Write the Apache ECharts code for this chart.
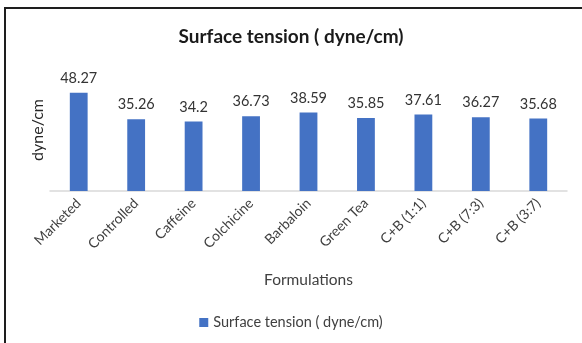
<!DOCTYPE html>
<html>
<head>
<meta charset="utf-8">
<script src="https://cdn.jsdelivr.net/npm/echarts@6/dist/echarts.min.js"></script>
<style>
  html, body { margin: 0; padding: 0; background: #fff; }
  #chart { width: 582px; height: 343px; }
</style>
</head>
<body>
<div id="chart"></div>
<script>
// Formulations and their measured surface tension
const categories = ['Marketed', 'Controlled', 'Caffeine', 'Colchicine', 'Barbaloin',
  'Green Tea', 'C+B (1:1)', 'C+B (7:3)', 'C+B (3:7)'];
const surfaceTension = [48.27, 35.26, 34.2, 36.73, 38.59, 35.85, 37.61, 36.27, 35.68];
const seriesName = 'Surface tension ( dyne/cm)';

const font = 'Lato, "Open Sans", sans-serif';
const chart = echarts.init(document.getElementById('chart'), null, { renderer: 'canvas' });

chart.setOption({
  animation: false,
  backgroundColor: '#fff',
  textStyle: { fontFamily: font },
  title: {
    text: 'Surface tension ( dyne/cm)',
    left: 'center',
    top: 22,
    textStyle: { fontFamily: font, fontSize: 19, fontWeight: 'bold', color: '#1a1a1a' }
  },
  graphic: [{
    type: 'rect',
    shape: { x: 5, y: 8, width: 700, height: 500 },
    style: { fill: 'none', stroke: '#1e1e1e', lineWidth: 2 },
    silent: true
  }],
  legend: {
    bottom: 8,
    left: 'center',
    itemWidth: 9,
    itemHeight: 9,
    itemGap: 4,
    icon: 'rect',
    textStyle: { fontFamily: font, fontSize: 14.5, color: '#404040' },
    data: [seriesName]
  },
  grid: { left: 50, right: 15, top: 69, bottom: 152 },
  xAxis: {
    type: 'category',
    data: categories,
    name: 'Formulations',
    nameLocation: 'middle',
    nameGap: 81,
    nameTextStyle: { fontFamily: font, fontSize: 15.5, color: '#404040' },
    axisLine: { lineStyle: { color: '#d9d9d9', width: 1.5 } },
    axisTick: { show: false },
    axisLabel: { rotate: 45, margin: 10, fontFamily: font, fontSize: 14, color: '#404040' }
  },
  yAxis: {
    type: 'value',
    min: 0,
    max: 60,
    name: 'dyne/cm',
    nameLocation: 'middle',
    nameGap: 4,
    nameTextStyle: { fontFamily: font, fontSize: 16, color: '#262626' },
    axisLine: { show: false },
    axisTick: { show: false },
    axisLabel: { show: false },
    splitLine: { show: false }
  },
  series: [{
    name: seriesName,
    type: 'bar',
    data: surfaceTension,
    barWidth: '31%',
    itemStyle: { color: '#4472C4' },
    label: {
      show: true,
      position: 'top',
      distance: 7,
      fontFamily: font,
      fontSize: 14.5,
      color: '#333333'
    }
  }]
});
</script>
</body>
</html>
